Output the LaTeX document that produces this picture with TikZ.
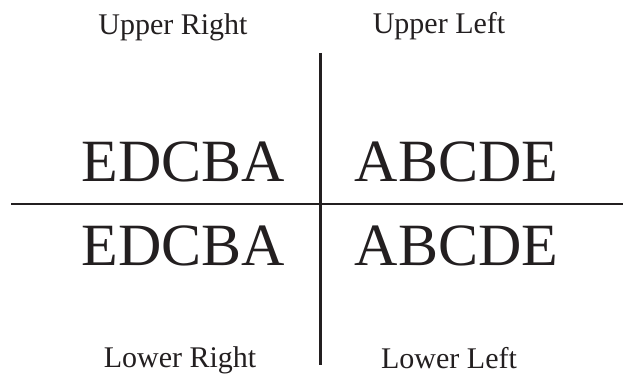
\documentclass[tikz,border=0pt]{standalone}
\usepackage{fontspec}
\setmainfont{Liberation Serif}
\usepackage{tikz}
\usetikzlibrary{positioning}
\definecolor{inkblack}{HTML}{231F20}

\begin{document}
\begin{tikzpicture}[x=1pt, y=-1pt,
    corner/.style={font=\fontsize{30}{36}\selectfont, anchor=base, inkblack},
    letters/.style={font=\fontsize{60}{72}\selectfont, anchor=base, inkblack},
    axis/.style={line width=2.2pt, inkblack}]
                \useasboundingbox (0,0) rectangle (623,382);
                \coordinate (vtop) at (320.5,53);
                \coordinate (vbot) at (320.5,365);
                \coordinate (hleft) at (11,204);
                \coordinate (hright) at (623,204);
                \draw[axis] (vtop) -- (vbot);
                \draw[axis] (hleft) -- (hright);
                \node[corner] (ur) at (173,35) {Upper Right};
                \node[corner] (ul) at (439,34) {Upper Left};
                \node[corner] (lr) at (180,367) {Lower Right};
                \node[corner] (ll) at (449,368) {Lower Left};
                \node[letters] (edcbatop) at (183.5,182) {EDCBA};
                \node[letters] (abcdetop) at (456.5,182) {ABCDE};
                \node[letters] (edcbabot) at (183.5,265) {EDCBA};
                \node[letters] (abcdebot) at (456.5,265) {ABCDE};
            \end{tikzpicture}
\end{document}
